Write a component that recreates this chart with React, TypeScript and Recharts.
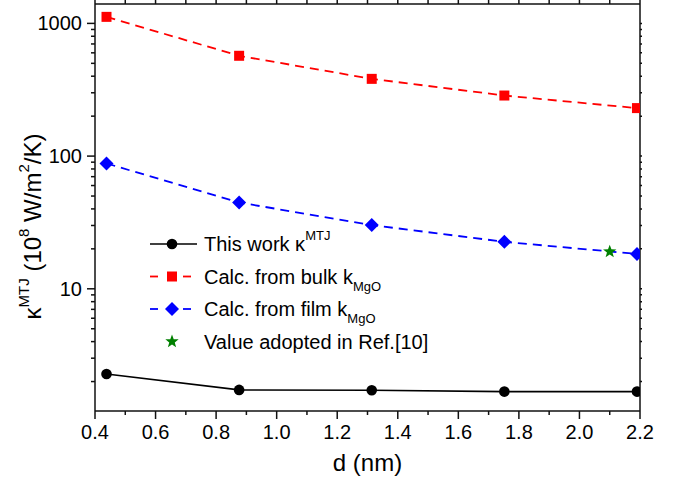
import React from "react";
import { ComposedChart, Line, Scatter, XAxis, YAxis, Legend } from "recharts";

// ---- data ----
const thickness = [0.438, 0.876, 1.314, 1.752, 2.19];
const thisWork = [2.28, 1.73, 1.72, 1.68, 1.68];
const bulkCalc = [1120, 570, 382, 286, 230];
const filmCalc = [88, 44.7, 30.2, 22.6, 18.3];
const refX = [2.1];
const refY = [19.05];

const xMajorTicks = [0.4, 0.6, 0.8, 1.0, 1.2, 1.4, 1.6, 1.8, 2.0, 2.2];
const xMinorTicks = [0.5, 0.7, 0.9, 1.1, 1.3, 1.5, 1.7, 1.9, 2.1];
const yMajorTicks = [10, 100, 1000];
const yMinorTicks = [2, 3, 4, 5, 6, 7, 8, 9, 20, 30, 40, 50, 60, 70, 80, 90, 200, 300, 400, 500, 600, 700, 800, 900];

const FONT = "'Liberation Sans', Arial, sans-serif";

const workData = thickness.map((x, i) => ({ x, y: thisWork[i] }));
const bulkData = thickness.map((x, i) => ({ x, y: bulkCalc[i] }));
const filmData = thickness.map((x, i) => ({ x, y: filmCalc[i] }));
const refData = refX.map((x, i) => ({ x, y: refY[i] }));

const xAll = [...xMajorTicks, ...xMinorTicks].sort((a, b) => a - b);
const yAll = [...yMinorTicks, ...yMajorTicks].sort((a, b) => a - b);

const isMajorX = (v: number) => xMajorTicks.some((t) => Math.abs(t - v) < 1e-9);
const isMajorY = (v: number) => yMajorTicks.includes(v);

const AX = "#111";

const BottomTick = (p: any) => {
  const { x, y, payload } = p;
  const major = isMajorX(payload.value);
  return (
    <g>
      <line x1={x} x2={x} y1={y} y2={y + (major ? 8 : 4)} stroke={AX} strokeWidth={1.5} />
      {major && (
        <text x={x} y={y + 28} textAnchor="middle" fontSize={20} fontFamily={FONT} fill="#000">
          {payload.value.toFixed(1)}
        </text>
      )}
    </g>
  );
};

const TopTick = (p: any) => {
  const { x, y } = p;
  return <line x1={x} x2={x} y1={y} y2={y - 4} stroke={AX} strokeWidth={1.5} />;
};

const LeftTick = (p: any) => {
  const { x, y, payload } = p;
  const major = isMajorY(payload.value);
  return (
    <g>
      <line x1={x} x2={x - (major ? 8 : 4)} y1={y} y2={y} stroke={AX} strokeWidth={1.5} />
      {major && (
        <text x={x - 13} y={y + 7} textAnchor="end" fontSize={20} fontFamily={FONT} fill="#000">
          {payload.value}
        </text>
      )}
    </g>
  );
};

const RightTick = (p: any) => {
  const { x, y } = p;
  return <line x1={x} x2={x + 2} y1={y} y2={y} stroke={AX} strokeWidth={1.5} />;
};

const Circle = (p: any) => <circle key={p.index} cx={p.cx} cy={p.cy} r={5.3} fill="#000" />;
const Square = (p: any) => <rect key={p.index} x={p.cx - 5} y={p.cy - 5} width={10} height={10} fill="#ff0000" />;
const Diamond = (p: any) => (
  <polygon
    key={p.index}
    points={`${p.cx},${p.cy - 7} ${p.cx + 7},${p.cy} ${p.cx},${p.cy + 7} ${p.cx - 7},${p.cy}`}
    fill="#0000ff"
  />
);
const starPoints = (cx: number, cy: number, R: number, r: number) => {
  const pts: string[] = [];
  for (let i = 0; i < 10; i++) {
    const a = -Math.PI / 2 + (i * Math.PI) / 5;
    const rad = i % 2 === 0 ? R : r;
    pts.push(`${cx + rad * Math.cos(a)},${cy + rad * Math.sin(a)}`);
  }
  return pts.join(" ");
};
const Star = (p: any) => <polygon points={starPoints(p.cx, p.cy, 7, 2.9)} fill="#008000" />;

const LegendBox = () => {
  const rows = [0, 1, 2, 3].map((i) => 20 + i * 32.5);
  const tx = 64;
  const mx = 32;
  return (
    <svg width={340} height={140} style={{ overflow: "visible" }}>
      {/* row 0 */}
      <line x1={10} x2={57} y1={rows[0]} y2={rows[0]} stroke="#000" strokeWidth={1.5} />
      <circle cx={mx} cy={rows[0]} r={5.3} fill="#000" />
      <text x={tx} y={rows[0] + 7} fontSize={20} fontFamily={FONT} fill="#000">
        This work κ<tspan fontSize={13} dy={-11}>MTJ</tspan>
      </text>
      {/* row 1 */}
      <line x1={10} x2={18} y1={rows[1]} y2={rows[1]} stroke="#ff0000" strokeWidth={1.8} />
      <line x1={43} x2={51} y1={rows[1]} y2={rows[1]} stroke="#ff0000" strokeWidth={1.8} />
      <rect x={mx - 5} y={rows[1] - 5} width={10} height={10} fill="#ff0000" />
      <text x={tx} y={rows[1] + 7} fontSize={20} fontFamily={FONT} fill="#000">
        Calc. from bulk k<tspan fontSize={13} dy={7}>MgO</tspan>
      </text>
      {/* row 2 */}
      <line x1={10} x2={18} y1={rows[2]} y2={rows[2]} stroke="#0000ff" strokeWidth={1.8} />
      <line x1={43} x2={51} y1={rows[2]} y2={rows[2]} stroke="#0000ff" strokeWidth={1.8} />
      <polygon
        points={`${mx},${rows[2] - 7} ${mx + 7},${rows[2]} ${mx},${rows[2] + 7} ${mx - 7},${rows[2]}`}
        fill="#0000ff"
      />
      <text x={tx} y={rows[2] + 7} fontSize={20} fontFamily={FONT} fill="#000">
        Calc. from film k<tspan fontSize={13} dy={7}>MgO</tspan>
      </text>
      {/* row 3 */}
      <polygon points={starPoints(mx, rows[3], 7, 2.9)} fill="#008000" />
      <text x={tx} y={rows[3] + 7} fontSize={20} fontFamily={FONT} fill="#000">
        Value adopted in Ref.[10]
      </text>
    </svg>
  );
};

const YTitle = () => (
  <text transform="translate(41,226.5) rotate(-90)" textAnchor="middle" fontSize={24} fontFamily={FONT} fill="#000">
    κ<tspan fontSize={15} dy={-12}>MTJ</tspan>
    <tspan dy={12}> (10</tspan>
    <tspan fontSize={15} dy={-12}>8</tspan>
    <tspan dy={12}> W/m</tspan>
    <tspan fontSize={15} dy={-12}>2</tspan>
    <tspan dy={12}>/K)</tspan>
  </text>
);

const XTitle = (p: any) => {
  const vb = p.viewBox || { x: 95, width: 545 };
  return (
    <text x={vb.x + vb.width / 2} y={471} textAnchor="middle" fontSize={24} fontFamily={FONT} fill="#000">
      d (nm)
    </text>
  );
};

export default function App() {
  return (
    <div style={{ position: "absolute", left: 0, top: 0, background: "#fff" }}>
      <ComposedChart width={692} height={477} margin={{ top: 0, right: 0, bottom: 0, left: 0 }}>
        <XAxis
          xAxisId="b"
          type="number"
          dataKey="x"
          domain={[0.4, 2.2]}
          allowDataOverflow
          ticks={xAll}
          interval={0}
          height={66}
          tickSize={0}
          tickMargin={0}
          tickLine={false}
          tick={BottomTick}
          axisLine={{ stroke: AX, strokeWidth: 1.5 }}
          label={{ content: XTitle }}
        />
        <XAxis
          xAxisId="t"
          orientation="top"
          type="number"
          dataKey="x"
          domain={[0.4, 2.2]}
          allowDataOverflow
          ticks={xAll}
          interval={0}
          height={4}
          tickSize={0}
          tickMargin={0}
          tickLine={false}
          tick={TopTick}
          axisLine={{ stroke: AX, strokeWidth: 1.5 }}
        />
        <YAxis
          yAxisId="l"
          dataKey="y"
          scale="log"
          type="number"
          domain={[1.2, 1400]}
          allowDataOverflow
          ticks={yAll}
          interval={0}
          width={95}
          tickSize={0}
          tickMargin={0}
          tickLine={false}
          tick={LeftTick}
          axisLine={{ stroke: AX, strokeWidth: 1.5 }}
          label={{ content: YTitle }}
        />
        <YAxis
          yAxisId="r"
          orientation="right"
          dataKey="y"
          scale="log"
          type="number"
          domain={[1.2, 1400]}
          allowDataOverflow
          ticks={yAll}
          interval={0}
          width={52}
          tickSize={0}
          tickMargin={0}
          tickLine={false}
          tick={RightTick}
          axisLine={{ stroke: AX, strokeWidth: 1.5 }}
        />
        <Line
          xAxisId="b"
          yAxisId="l"
          data={bulkData}
          dataKey="y"
          stroke="#ff0000"
          strokeWidth={1.8}
          strokeDasharray="9 6"
          dot={Square}
          activeDot={false}
          isAnimationActive={false}
        />
        <Line
          xAxisId="b"
          yAxisId="l"
          data={filmData}
          dataKey="y"
          stroke="#0000ff"
          strokeWidth={1.8}
          strokeDasharray="9 6"
          dot={Diamond}
          activeDot={false}
          isAnimationActive={false}
        />
        <Line
          xAxisId="b"
          yAxisId="l"
          data={workData}
          dataKey="y"
          stroke="#000"
          strokeWidth={1.6}
          dot={Circle}
          activeDot={false}
          isAnimationActive={false}
        />
        <Scatter xAxisId="b" yAxisId="l" data={refData} dataKey="y" shape={Star} isAnimationActive={false} />
        <Legend
          layout="vertical"
          align="center"
          verticalAlign="middle"
          wrapperStyle={{ position: "absolute", left: 140, top: 224, width: 340, height: 140 }}
          content={() => <LegendBox />}
        />
      </ComposedChart>
    </div>
  );
}
